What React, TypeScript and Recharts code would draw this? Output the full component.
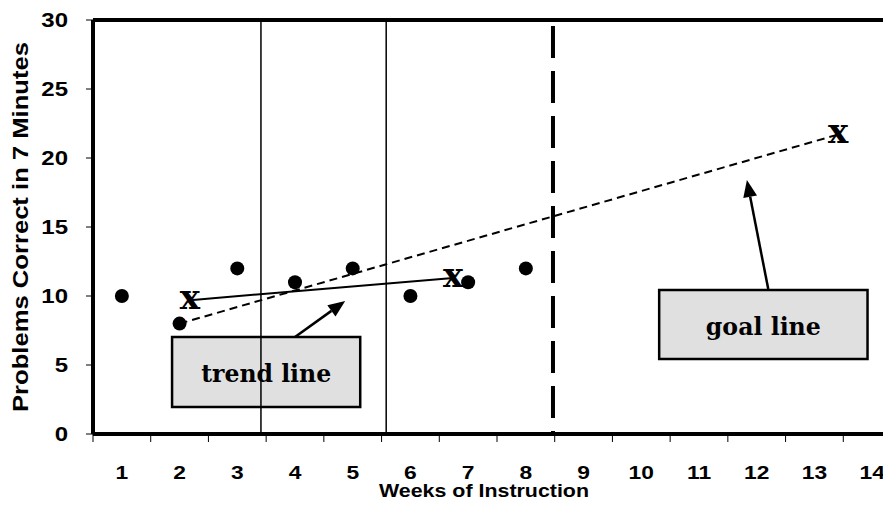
import React from 'react';
import {
  ComposedChart,
  XAxis,
  YAxis,
  Scatter,
  Line,
  ReferenceLine,
  ReferenceArea,
} from 'recharts';

// ---- data ----
const weeks = [1, 2, 3, 4, 5, 6, 7, 8];
const problemsCorrect = [10, 8, 12, 11, 12, 10, 11, 12];
const weekTicks = [1, 2, 3, 4, 5, 6, 7, 8, 9, 10, 11, 12, 13, 14];
const weekBoundaries = [0.5, 1.5, 2.5, 3.5, 4.5, 5.5, 6.5, 7.5, 8.5, 9.5, 10.5, 11.5, 12.5, 13.5, 14.5];
const yTicks = [0, 5, 10, 15, 20, 25, 30];
const phaseChangeWeeks = [3.41, 5.58];
const goalDateWeek = 8.47;
const trendWeeks = [2.18, 6.74];
const trendValues = [9.7, 11.3];
const goalWeeks = [2, 13.41];
const goalValues = [8, 21.7];
const trendBoxWeeks = [1.87, 5.13];
const trendBoxValues = [1.96, 7.03];
const goalBoxWeeks = [10.31, 13.92];
const goalBoxValues = [5.43, 10.43];
const trendArrowWeeks = [4.0, 4.87];
const trendArrowValues = [7.03, 9.64];
const goalArrowWeeks = [12.2, 11.83];
const goalArrowValues = [10.5, 18.4];

const scores = weeks.map((w, i) => ({ week: w, value: problemsCorrect[i] }));
const trendLine = trendWeeks.map((w, i) => ({ week: w, value: trendValues[i], mark: true }));
const goalLine = goalWeeks.map((w, i) => ({ week: w, value: goalValues[i], mark: i === 1 }));

const SANS = '"Liberation Sans", Arial, sans-serif';
const SERIF = '"DejaVu Serif", serif';

const XTick = (props: any) => {
  const { x, y, payload } = props;
  return (
    <g transform={`translate(${x},${y + 45}) scale(1.2,1)`}>
      <text x={0} y={0} textAnchor="middle" fontFamily={SANS} fontWeight="bold" fontSize={19} fill="#000">
        {payload.value}
      </text>
    </g>
  );
};

const YTick = (props: any) => {
  const { x, y, payload } = props;
  return (
    <g transform={`translate(${x},${y}) scale(1.2,1)`}>
      <text x={0} y={0} dy="0.36em" textAnchor="end" fontFamily={SANS} fontWeight="bold" fontSize={20} fill="#000">
        {payload.value}
      </text>
    </g>
  );
};

const Arrow = (props: any) => {
  const { x1, y1, x2, y2 } = props;
  const ang = Math.atan2(y2 - y1, x2 - x1);
  const len = 17;
  const half = 7;
  const bx = x2 - len * Math.cos(ang);
  const by = y2 - len * Math.sin(ang);
  const px = -Math.sin(ang) * half;
  const py = Math.cos(ang) * half;
  return (
    <g>
      <line x1={x1} y1={y1} x2={bx} y2={by} stroke="#000" strokeWidth={2.5} />
      <polygon points={`${x2},${y2} ${bx + px},${by + py} ${bx - px},${by - py}`} fill="#000" />
    </g>
  );
};

const boxLabel = (text: string, len: number) => (p: any) => {
  const vb = p.viewBox || {};
  return (
    <text
      x={vb.x + vb.width / 2}
      y={vb.y + vb.height / 2}
      dy="0.42em"
      textAnchor="middle"
      fontFamily={SERIF}
      fontWeight="bold"
      fontSize={25}
      fill="#000"
      textLength={len}
      lengthAdjust="spacingAndGlyphs"
    >
      {text}
    </text>
  );
};

const xMark = (p: any) => {
  if (!p.payload || !p.payload.mark) return <g key={p.index} />;
  return (
    <text
      key={p.index}
      x={p.cx}
      y={p.cy}
      dy="0.26em"
      textAnchor="middle"
      fontFamily={SERIF}
      fontWeight="bold"
      fontSize={34}
      fill="#000"
    >
      x
    </text>
  );
};

export default function App() {
  return (
    <div style={{ width: 883, height: 512, overflow: 'hidden' }}>
      <ComposedChart width={900} height={512} margin={{ top: 12, right: 7, bottom: 0, left: 0 }}>
        <XAxis
          dataKey="week"
          type="number"
          domain={[0.5, 14.5]}
          ticks={weekTicks}
          tick={<XTick />}
          tickLine={false}
          tickSize={0}
          tickMargin={0}
          axisLine={{ stroke: '#000', strokeWidth: 4 }}
          height={86}
          allowDataOverflow
          label={{
            content: () => (
              <text
                x={476}
                y={489}
                textAnchor="middle"
                fontFamily={SANS}
                fontWeight="bold"
                fontSize={18}
                fill="#000"
                textLength={210}
                lengthAdjust="spacingAndGlyphs"
              >
                Weeks of Instruction
              </text>
            ),
          }}
        />
        <YAxis
          type="number"
          domain={[0, 30]}
          ticks={yTicks}
          width={85}
          tick={<YTick />}
          tickLine={{ stroke: '#000', strokeWidth: 1 }}
          tickSize={7}
          tickMargin={18}
          axisLine={{ stroke: '#000', strokeWidth: 4 }}
          allowDataOverflow
          label={{
            content: () => (
              <text
                transform="translate(20,219) rotate(-90)"
                x={0}
                y={0}
                textAnchor="middle"
                fontFamily={SANS}
                fontWeight="bold"
                fontSize={22}
                fill="#000"
                textLength={370}
                lengthAdjust="spacingAndGlyphs"
              >
                Problems Correct in 7 Minutes
              </text>
            ),
          }}
        />
        <ReferenceLine y={30} stroke="#000" strokeWidth={4} />
        {weekBoundaries.map((b) => (
          <ReferenceLine
            key={`tick-${b}`}
            segment={[
              { x: b, y: 0 },
              { x: b, y: -0.58 },
            ]}
            ifOverflow="visible"
            stroke="#000"
            strokeWidth={1}
          />
        ))}
        {phaseChangeWeeks.map((w) => (
          <ReferenceLine key={w} x={w} stroke="#000" strokeWidth={1.5} />
        ))}
        <ReferenceLine x={goalDateWeek} stroke="#000" strokeWidth={4} strokeDasharray="32 13" strokeDashoffset={29} />
        <ReferenceArea
          x1={trendBoxWeeks[0]}
          x2={trendBoxWeeks[1]}
          y1={trendBoxValues[0]}
          y2={trendBoxValues[1]}
          fill="#e0e0e0"
          fillOpacity={1}
          stroke="#000"
          strokeWidth={2.5}
          label={{ content: boxLabel('trend line', 130) }}
        />
        <ReferenceArea
          x1={goalBoxWeeks[0]}
          x2={goalBoxWeeks[1]}
          y1={goalBoxValues[0]}
          y2={goalBoxValues[1]}
          fill="#e0e0e0"
          fillOpacity={1}
          stroke="#000"
          strokeWidth={2.5}
          label={{ content: boxLabel('goal line', 115) }}
        />
        <ReferenceLine
          segment={[
            { x: trendArrowWeeks[0], y: trendArrowValues[0] },
            { x: trendArrowWeeks[1], y: trendArrowValues[1] },
          ]}
          shape={<Arrow />}
        />
        <ReferenceLine
          segment={[
            { x: goalArrowWeeks[0], y: goalArrowValues[0] },
            { x: goalArrowWeeks[1], y: goalArrowValues[1] },
          ]}
          shape={<Arrow />}
        />
        <Scatter
          data={scores}
          dataKey="value"
          isAnimationActive={false}
          shape={(p: any) => <circle cx={p.cx} cy={p.cy} r={7} fill="#000" />}
        />
        <Line
          data={goalLine}
          dataKey="value"
          stroke="#000"
          strokeWidth={2}
          strokeDasharray="8 5"
          dot={xMark}
          activeDot={false}
          isAnimationActive={false}
        />
        <Line
          data={trendLine}
          dataKey="value"
          stroke="#000"
          strokeWidth={2}
          dot={xMark}
          activeDot={false}
          isAnimationActive={false}
        />
      </ComposedChart>
    </div>
  );
}
